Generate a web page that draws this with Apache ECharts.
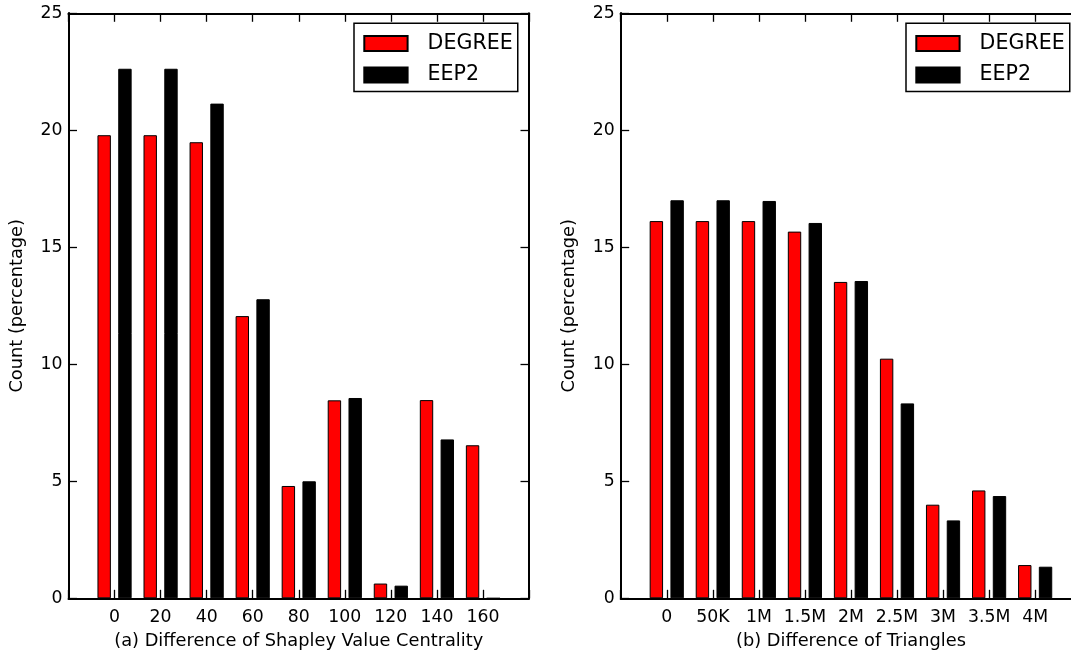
<!DOCTYPE html>
<html>
<head>
<meta charset="utf-8">
<script src="https://cdn.jsdelivr.net/npm/echarts@6/dist/echarts.min.js"></script>
<style>
html,body{margin:0;padding:0;background:#fff;}
#chart{width:1071px;height:656px;}
</style>
</head>
<body>
<div id="chart"></div>
<script>
// ---- data ----
const seriesNames = ['DEGREE', 'EEP2'];
const leftCategories = ['0', '20', '40', '60', '80', '100', '120', '140', '160'];
const leftDegree = [19.79, 19.79, 19.49, 12.06, 4.80, 8.46, 0.63, 8.47, 6.54];
const leftEep2 = [22.63, 22.63, 21.14, 12.78, 5.00, 8.56, 0.54, 6.79, 0];
const rightCategories = ['0', '50K', '1M', '1.5M', '2M', '2.5M', '3M', '3.5M', '4M'];
const rightDegree = [16.12, 16.12, 16.12, 15.67, 13.52, 10.24, 4.00, 4.61, 1.42];
const rightEep2 = [17.01, 17.01, 16.98, 16.04, 13.56, 8.33, 3.33, 4.37, 1.35];
const leftXTitle = '(a) Difference of Shapley Value Centrality';
const rightXTitle = '(b) Difference of Triangles';
const yTitle = 'Count (percentage)';
const yMin = 0, yMax = 25, yStep = 5;

// ---- build ----
const FONT = 'DejaVu Sans';
const TICK_FS = 17.3, TITLE_FS = 17.8;
const GRID_W = 460.5, GRID_H = 585;

function axisLine() { return { show: true, onZero: false, lineStyle: { color: '#000', width: 2 } }; }
function tick(inside) { return { show: true, inside, length: 8.5, lineStyle: { color: '#000', width: 1.3 } }; }

function xAxes(gridIndex, cats, title) {
  return [
    {
      type: 'value', gridIndex, min: -1, max: cats.length, interval: 1,
      position: 'bottom',
      axisLine: axisLine(), axisTick: tick(true), splitLine: { show: false },
      axisLabel: {
        color: '#000', fontFamily: FONT, fontSize: TICK_FS, margin: 11,
        formatter: v => (cats[v] !== undefined ? cats[v] : '')
      },
      name: title, nameLocation: 'middle', nameGap: 34,
      nameTextStyle: { color: '#000', fontFamily: FONT, fontSize: TITLE_FS }
    },
    {
      // top border: a bottom-type axis moved up to the top edge, ticks pointing down
      type: 'value', gridIndex, min: -1, max: cats.length, interval: 1,
      position: 'bottom', offset: -GRID_H,
      axisLine: axisLine(), axisTick: tick(false), splitLine: { show: false },
      axisLabel: { show: false }
    }
  ];
}
function yAxes(gridIndex) {
  return [
    {
      type: 'value', gridIndex, min: yMin, max: yMax, interval: yStep,
      position: 'left',
      axisLine: axisLine(), axisTick: { show: false }, splitLine: { show: false },
      axisLabel: { color: '#000', fontFamily: FONT, fontSize: TICK_FS, margin: 6 },
      name: yTitle, nameLocation: 'middle', nameGap: 42,
      nameTextStyle: { color: '#000', fontFamily: FONT, fontSize: TITLE_FS }
    },
    {
      type: 'value', gridIndex, min: yMin, max: yMax, interval: yStep,
      position: 'right',
      axisLine: axisLine(), axisTick: tick(true), splitLine: { show: false },
      axisLabel: { show: false }
    },
    {
      // left-edge ticks: a right-type axis moved to the left edge, ticks pointing right
      type: 'value', gridIndex, min: yMin, max: yMax, interval: yStep,
      position: 'right', offset: -GRID_W,
      axisLine: axisLine(), axisTick: tick(false), splitLine: { show: false },
      axisLabel: { show: false }
    }
  ];
}
function barSeries(name, values, xi, yi, color) {
  return {
    type: 'bar', name, xAxisIndex: xi, yAxisIndex: yi,
    data: values.map((v, i) => [i, v]),
    barWidth: 13.4, barGap: '55%',
    itemStyle: { color, borderColor: '#000', borderWidth: 1 },
    emphasis: { disabled: true }
  };
}
function legend(left) {
  return {
    orient: 'vertical', left, top: 23.3, data: seriesNames,
    icon: 'rect', itemWidth: 43.3, itemHeight: 15, itemGap: 10.7,
    padding: [9.6, 5, 5.9, 9.3],
    borderColor: '#000', borderWidth: 1.5, backgroundColor: '#fff',
    selectedMode: false,
    textStyle: { color: '#000', fontFamily: FONT, fontSize: 20.6, padding: [0, 0, 0, 15] }
  };
}

const chart = echarts.init(document.getElementById('chart'), null, { renderer: 'canvas' });
chart.setOption({
  animation: false,
  backgroundColor: '#fff',
  textStyle: { fontFamily: FONT },
  grid: [
    { left: 68.5, top: 13.3, width: GRID_W, height: GRID_H, containLabel: false, outerBoundsMode: 'none' },
    { left: 620.7, top: 13.3, width: GRID_W, height: GRID_H, containLabel: false, outerBoundsMode: 'none' }
  ],
  xAxis: xAxes(0, leftCategories, leftXTitle).concat(xAxes(1, rightCategories, rightXTitle)),
  yAxis: yAxes(0).concat(yAxes(1)),
  legend: [legend(354), legend(906)],
  series: [
    barSeries('DEGREE', leftDegree, 0, 0, '#ff0000'),
    barSeries('EEP2', leftEep2, 0, 0, '#000000'),
    barSeries('DEGREE', rightDegree, 2, 3, '#ff0000'),
    barSeries('EEP2', rightEep2, 2, 3, '#000000')
  ]
});
</script>
</body>
</html>
